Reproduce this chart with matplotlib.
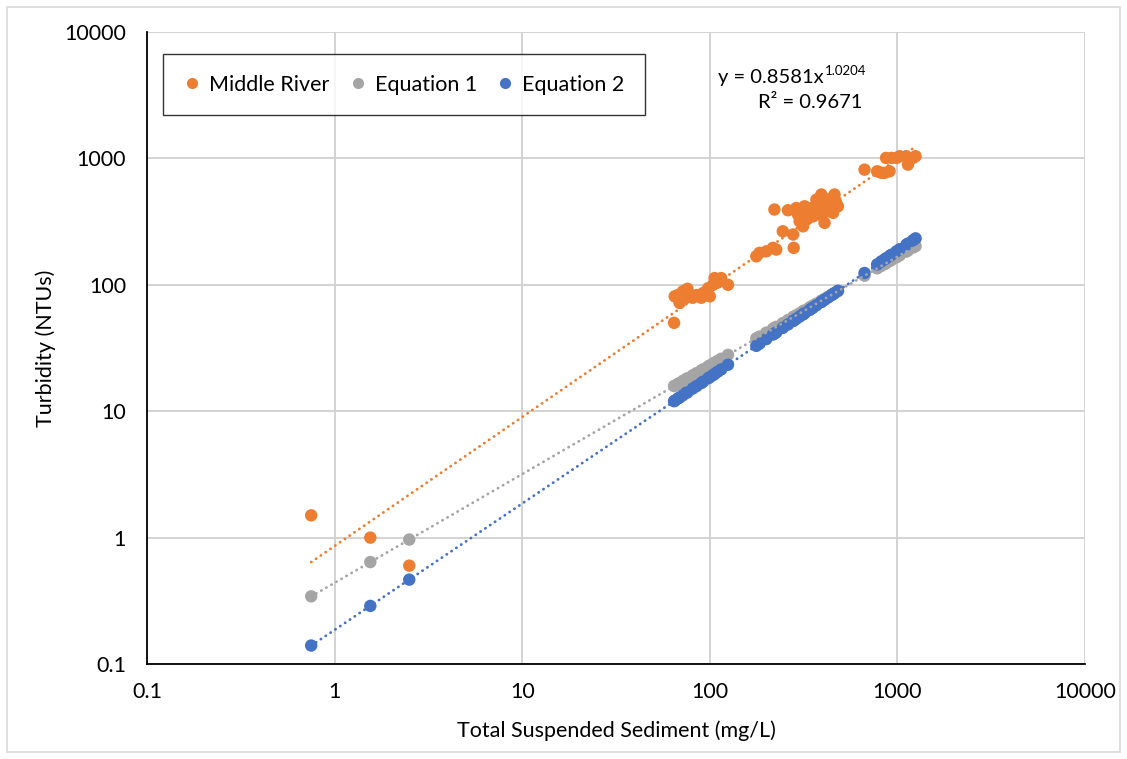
import numpy as np
import matplotlib.pyplot as plt
from matplotlib.lines import Line2D
from matplotlib.patches import Rectangle

plt.rcParams['font.family'] = ['Lato', 'DejaVu Sans']

# TSS (mg/L) vs turbidity (NTU)
tss = [0.75, 1.55, 2.5, 64.5, 65, 67.5, 69, 72, 75, 76, 81, 85, 90, 92, 98, 100,
       104, 106, 110, 115, 125, 177, 184, 200, 217, 221, 226, 245, 261, 278, 280,
       289, 301, 314, 316, 320, 340, 348, 355, 370, 393, 395, 409, 427, 445, 454,
       462, 482, 668, 780, 820, 855, 870, 908, 930, 989, 1028, 1115, 1138, 1211, 1250]

middle_river = [1.5, 1.0, 0.6, 50, 81, 83, 72, 89, 79, 93, 79, 83, 79, 86, 94, 81,
                100, 113, 104, 113, 100, 168, 179, 184, 196, 394, 190, 265, 389, 250, 196,
                405, 318, 290, 348, 418, 371, 405, 348, 472, 518, 418, 309, 472, 418, 371,
                518, 418, 815, 791, 770, 768, 1009, 791, 1009, 1009, 1040, 1040, 893, 1009, 1040]

equation_1 = [0.343, 0.640, 0.965, 15.8, 15.9, 16.4, 16.7, 17.4, 18.0, 18.2, 19.2, 20.0, 21.0, 21.4, 22.6, 23.0,
              23.8, 24.2, 25.0, 26.0, 27.9, 37.7, 38.9, 41.8, 44.9, 45.6, 46.5, 49.8, 52.6, 55.5, 55.9,
              57.4, 59.4, 61.6, 62.0, 62.7, 66.0, 67.3, 68.5, 71.0, 74.8, 75.1, 77.4, 80.3, 83.2, 84.6,
              85.9, 89.1, 118, 135, 141, 146, 148, 154, 157, 165, 171, 183, 187, 197, 202]

equation_2 = [0.140, 0.288, 0.465, 12.0, 12.1, 12.6, 12.8, 13.4, 14.0, 14.1, 15.1, 15.8, 16.7, 17.1, 18.2, 18.6,
              19.3, 19.7, 20.5, 21.4, 23.3, 32.9, 34.2, 37.2, 40.4, 41.1, 42.0, 45.6, 48.5, 51.7, 52.1,
              53.8, 56.0, 58.4, 58.8, 59.5, 63.2, 64.7, 66.0, 68.8, 73.1, 73.5, 76.1, 79.4, 82.8, 84.4,
              85.9, 89.7, 124, 145, 153, 159, 162, 169, 173, 184, 191, 207, 212, 225, 233]

# extra Middle River samples inside the dense 250-500 mg/L cluster
tss_extra = [295, 305, 330, 345, 360, 380, 400, 420, 440, 470]
middle_river_extra = [360, 340, 330, 380, 400, 360, 440, 380, 460, 450]

# power trendline reported for Middle River
coef_a, coef_b, r2 = 0.8581, 1.0204, 0.9671

labels = ['Middle River', 'Equation 1', 'Equation 2']
colors = ['#ED7D31', '#A5A5A5', '#4472C4']
ticks = [0.1, 1, 10, 100, 1000, 10000]
tick_labels = ['0.1', '1', '10', '100', '1000', '10000']

fs = 15.5

fig = plt.figure(figsize=(11.27, 7.59), dpi=100)
ax = fig.add_axes([147 / 1127, 1 - 664 / 759, 938 / 1127, 632 / 759])

# light border around the whole chart area
fig.patches.append(Rectangle((7 / 1127, 7 / 759), 1113 / 1127, 745 / 759, transform=fig.transFigure,
                             fill=False, edgecolor='#D9D9D9', linewidth=1.2))

x = np.array(tss)
series = [np.array(middle_river), np.array(equation_1), np.array(equation_2)]
ax.scatter(tss_extra, middle_river_extra, s=80, color=colors[0], edgecolors='none', zorder=3)
for ys, c in zip(series, colors):
    ax.scatter(x, ys, s=80, color=c, edgecolors='none', zorder=3)

xx = np.logspace(np.log10(x.min()), np.log10(x.max()), 200)
ax.plot(xx, coef_a * xx ** coef_b, color=colors[0], lw=2, ls=(0, (0.1, 2.0)),
        dash_capstyle='round', zorder=4)
for ys, c in zip(series[1:], colors[1:]):
    b, la = np.polyfit(np.log10(x), np.log10(ys), 1)
    ax.plot(xx, 10 ** la * xx ** b, color=c, lw=2, ls=(0, (0.1, 2.0)),
            dash_capstyle='round', zorder=4)

ax.set_xscale('log')
ax.set_yscale('log')
ax.set_xlim(0.1, 10000)
ax.set_ylim(0.1, 10000)
ax.set_xticks(ticks)
ax.set_xticklabels(tick_labels)
ax.set_yticks(ticks)
ax.set_yticklabels(tick_labels)
ax.minorticks_off()
ax.tick_params(axis='both', length=0, labelsize=fs, colors='black')
ax.tick_params(axis='x', pad=13)
ax.tick_params(axis='y', pad=15)
ax.grid(True, color='#D0D0D0', lw=1.3, zorder=0)
ax.set_axisbelow(True)
for side in ['top', 'right']:
    ax.spines[side].set_visible(False)
for side in ['left', 'bottom']:
    ax.spines[side].set_linewidth(1.3)
    ax.spines[side].set_color('black')

ax.set_xlabel('Total Suspended Sediment (mg/L)', fontsize=fs)
ax.set_ylabel('Turbidity (NTUs)', fontsize=fs)
ax.xaxis.set_label_coords(0.5, -0.09)
ax.yaxis.set_label_coords(-0.097, 0.5)

# trendline equation, exponent written as a raised smaller text
fig.text(824 / 1127, 1 - 77 / 759, f'y = {coef_a:.4f}x', fontsize=14.5, ha='right', va='center')
fig.text(825 / 1127, 1 - 71 / 759, f'{coef_b:.4f}', fontsize=9.5, ha='left', va='center')
fig.text(862 / 1127, 1 - 103 / 759, f'R² = {r2:.4f}', fontsize=14.5, ha='right', va='center')

handles = [Line2D([], [], ls='none', marker='o', ms=8, color=c, markeredgecolor='none') for c in colors]
leg = ax.legend(handles, labels, ncol=3, loc='upper left', bbox_to_anchor=(0.017, 0.965),
                borderaxespad=0, frameon=True, fancybox=False, edgecolor='black', fontsize=fs,
                handlelength=0.8, handletextpad=0.4, columnspacing=0.9, borderpad=0.95)
leg.get_frame().set_linewidth(1.0)

fig.savefig('out.png', dpi=100)
